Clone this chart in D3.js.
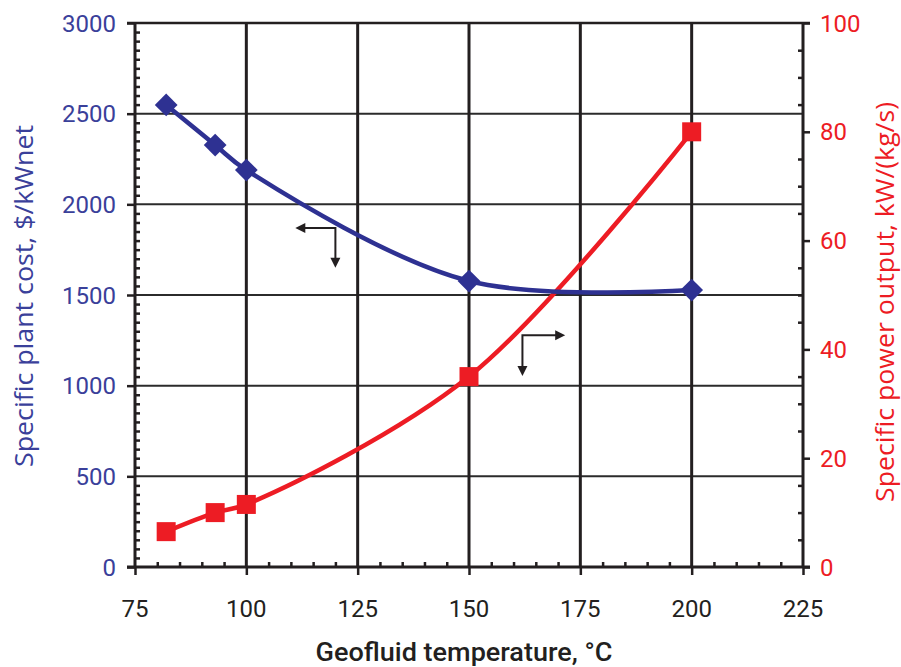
<!DOCTYPE html>
<html><head><meta charset="utf-8">
<script src="https://cdn.jsdelivr.net/npm/d3@7"></script>
<style>html,body{margin:0;padding:0;background:#fff;}svg{display:block;}</style>
</head><body>
<svg id="chart" width="901" height="667"></svg>
<script>
// ---- data ----
const temperatures = [82, 93, 100, 150, 200];
const plantCost = [2548, 2327, 2189, 1577, 1527];       // $/kWnet (left axis)
const powerOutput = [6.5, 10.0, 11.5, 35.0, 80.0];      // kW/(kg/s) (right axis)
const xTicks = [75, 100, 125, 150, 175, 200, 225];
const yLeftTicks = [0, 500, 1000, 1500, 2000, 2500, 3000];
const yRightTicks = [0, 20, 40, 60, 80, 100];
const xTitle = "Geofluid temperature, °C";
const yLeftTitle = "Specific plant cost, $/kWnet";
const yRightTitle = "Specific power output, kW/(kg/s)";
// annotation arrows (data units)
const costArrow = {cx: 120, cy: 1870, tipX: 111, tipY: 1650};
const powerArrow = {cx: 162, cy: 42.6, tipX: 171.6, tipY: 35.1};

// ---- layout ----
const BLUE = "#2e3192", BLUE_T = "#3a409a", RED = "#ed1c24", INK = "#231f20";
const svg = d3.select("#chart");
const x = d3.scaleLinear().domain([75, 225]).range([135, 803]);
const yL = d3.scaleLinear().domain([0, 3000]).range([567, 23]);
const yR = d3.scaleLinear().domain([0, 100]).range([567, 23]);
const [x0, x1] = x.range();
const [yb, yt] = yL.range();

const g = svg.append("g");

// horizontal gridlines
g.selectAll(".hg").data(yLeftTicks.slice(1)).join("line")
  .attr("x1", x0).attr("x2", x1).attr("y1", d => yL(d)).attr("y2", d => yL(d))
  .attr("stroke", "#2b2b2b").attr("stroke-width", 2);
// vertical gridlines
g.selectAll(".vg").data(xTicks.slice(1, -1)).join("line")
  .attr("x1", d => x(d)).attr("x2", d => x(d)).attr("y1", yt).attr("y2", yb)
  .attr("stroke", INK).attr("stroke-width", 3);

// left axis
const leftAxis = g.append("g").attr("transform", `translate(${x0},0)`)
  .call(d3.axisLeft(yL).tickValues(yLeftTicks).tickSize(8).tickFormat(""));
const leftMinor = g.append("g").attr("transform", `translate(${x0},0)`)
  .call(d3.axisRight(yL).tickValues(d3.range(0, 3001, 50).filter(v => v % 500)).tickSize(5).tickFormat(""));
// bottom axis
const bottomAxis = g.append("g").attr("transform", `translate(0,${yb})`)
  .call(d3.axisBottom(x).tickValues(xTicks).tickSize(8).tickFormat(""));
const bottomMinor = g.append("g").attr("transform", `translate(0,${yb})`)
  .call(d3.axisTop(x).tickValues(d3.range(75, 226, 5).filter(v => v % 25)).tickSize(5).tickFormat(""));
// right axis
const rightAxis = g.append("g").attr("transform", `translate(${x1},0)`)
  .call(d3.axisRight(yR).tickValues(yRightTicks).tickSize(7).tickFormat(""));
const rightMinor = g.append("g").attr("transform", `translate(${x1},0)`)
  .call(d3.axisLeft(yR).tickValues(d3.range(0, 101, 5).filter(v => v % 20)).tickSize(5).tickFormat(""));

[leftAxis, leftMinor, bottomAxis, bottomMinor, rightAxis, rightMinor].forEach(a => {
  a.select(".domain").attr("stroke", INK).attr("stroke-width", 3);
  a.selectAll(".tick line").attr("stroke", INK).attr("stroke-width", 2.5);
});
[leftMinor, bottomMinor, rightMinor].forEach(a => a.select(".domain").remove());
leftAxis.select(".domain").attr("d", `M0,${yt}V${yb}`);
rightAxis.select(".domain").attr("d", `M0,${yt}V${yb}`);
bottomAxis.select(".domain").attr("d", `M${x0 - 8},0H${x1 + 7}`);
// top line extension
g.append("line").attr("x1", x0 - 8).attr("x2", x1 + 7).attr("y1", yt).attr("y2", yt)
  .attr("stroke", INK).attr("stroke-width", 2.5);

// tick labels
const tickFont = "Roboto, 'DejaVu Sans', sans-serif";
g.selectAll(".ll").data(yLeftTicks).join("text")
  .attr("x", 116).attr("y", d => yL(d) + 8.5).attr("text-anchor", "end")
  .attr("font-family", tickFont).attr("font-size", 24).attr("fill", BLUE_T).text(d => d);
g.selectAll(".rl").data(yRightTicks).join("text")
  .attr("x", 820).attr("y", d => yR(d) + 8.5).attr("text-anchor", "start")
  .attr("font-family", tickFont).attr("font-size", 24).attr("fill", RED).text(d => d);
g.selectAll(".xl").data(xTicks).join("text")
  .attr("x", d => x(d)).attr("y", 617).attr("text-anchor", "middle")
  .attr("font-family", tickFont).attr("font-size", 24).attr("fill", INK).text(d => d);

// titles
svg.append("text").attr("x", 464).attr("y", 661).attr("text-anchor", "middle")
  .attr("font-family", tickFont).attr("font-weight", 500).attr("font-size", 25)
  .attr("textLength", 297).attr("lengthAdjust", "spacingAndGlyphs")
  .attr("fill", INK).text(xTitle);
svg.append("text").attr("transform", "translate(33,296) rotate(-90)").attr("text-anchor", "middle")
  .attr("font-family", "'Open Sans', sans-serif").attr("font-size", 26)
  .attr("textLength", 342).attr("lengthAdjust", "spacingAndGlyphs")
  .attr("fill", BLUE_T).text(yLeftTitle);
svg.append("text").attr("transform", "translate(894,302) rotate(-90)").attr("text-anchor", "middle")
  .attr("font-family", "'Open Sans', sans-serif").attr("font-size", 26)
  .attr("textLength", 400).attr("lengthAdjust", "spacingAndGlyphs")
  .attr("fill", RED).text(yRightTitle);

// curves
const costPts = temperatures.map((t, i) => [t, plantCost[i]]);
const powerPts = temperatures.map((t, i) => [t, powerOutput[i]]);
const curve = d3.curveCatmullRom.alpha(0.5);
svg.append("path").datum(powerPts)
  .attr("d", d3.line().x(d => x(d[0])).y(d => yR(d[1])).curve(curve))
  .attr("fill", "none").attr("stroke", RED).attr("stroke-width", 4.5);
svg.append("path").datum(costPts)
  .attr("d", d3.line().x(d => x(d[0])).y(d => yL(d[1])).curve(curve))
  .attr("fill", "none").attr("stroke", BLUE).attr("stroke-width", 4.5);

// markers
svg.selectAll(".sq").data(powerPts).join("rect")
  .attr("x", d => x(d[0]) - 9.5).attr("y", d => yR(d[1]) - 9.5)
  .attr("width", 19).attr("height", 19).attr("fill", RED);
svg.selectAll(".dm").data(costPts).join("path")
  .attr("d", d3.symbol(d3.symbolDiamond2, 330)())
  .attr("transform", d => `translate(${x(d[0])},${yL(d[1])})`).attr("fill", BLUE);

// arrows
function arrowHead(tx, ty, dir) {
  const L = 10, W = 5;
  let p;
  if (dir === "left") p = [[tx, ty], [tx + L, ty - W], [tx + L, ty + W]];
  else if (dir === "right") p = [[tx, ty], [tx - L, ty - W], [tx - L, ty + W]];
  else p = [[tx, ty], [tx - W, ty - L], [tx + W, ty - L]];
  svg.append("path").attr("d", d3.line()(p) + "Z").attr("fill", INK);
}
function elbow(a, ys, hdir) {
  const cx = x(a.cx), cy = ys(a.cy), tx = x(a.tipX), ty = ys(a.tipY);
  svg.append("path").attr("d", `M${hdir === "left" ? tx + 8 : tx - 8},${cy}H${cx}V${ty - 8}`)
    .attr("fill", "none").attr("stroke", INK).attr("stroke-width", 2);
  arrowHead(tx, cy, hdir);
  arrowHead(cx, ty, "down");
}
elbow(costArrow, yL, "left");
elbow(powerArrow, yR, "right");
</script>
</body></html>
